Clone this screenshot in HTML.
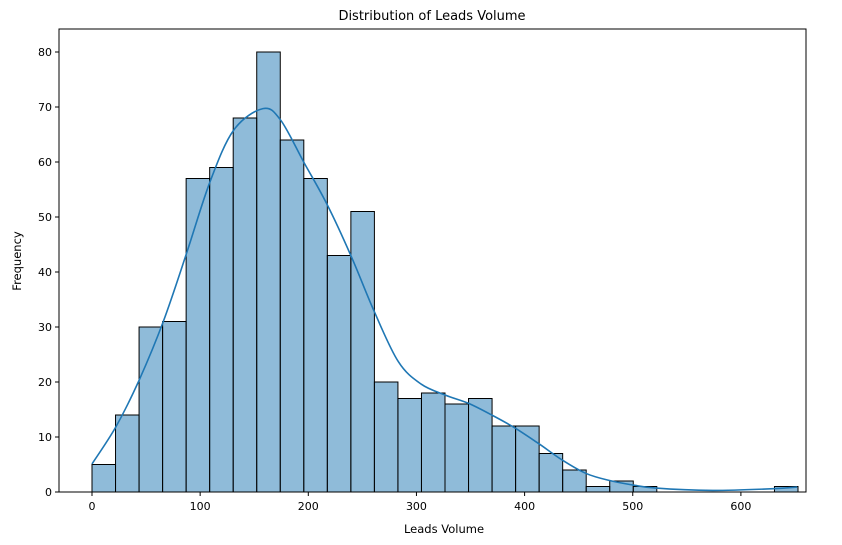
<!DOCTYPE html>
<html><head><meta charset="utf-8"><style>
body{margin:0;background:#fff;font-family:"DejaVu Sans","Liberation Sans",sans-serif}
svg{display:block}
</style></head><body>
<svg id="chart" width="842" height="545">
<text x="432" y="20" font-size="13" text-anchor="middle">Distribution of Leads Volume</text>
<text x="444" y="533" font-size="11.5" text-anchor="middle">Leads Volume</text>
<text transform="translate(21,261) rotate(-90)" font-size="11.5" text-anchor="middle">Frequency</text>
<g id="bars"></g><g id="ticks"></g>
</svg>
<script>
const counts=[5,14,30,31,57,59,68,80,64,57,43,51,20,17,18,16,17,12,12,7,4,1,2,1,0,0,0,0,0,1];
const binMin=0, binMax=652.8;
const kdeX=[0,22.2,43.7,65.9,87.6,109.1,131,158,174.5,196.3,217.6,239.8,261,283.2,304.5,327,348.3,369.6,391.4,413,434.9,456.5,478,499.6,521.5,574,630,652];
const kdeY=[5.1,11.9,20.4,31,43.5,56.4,65.8,69.7,67.6,59.8,52.2,42.8,32.8,23.7,19.6,17.6,16.1,14,11.6,8.8,5.8,3.4,2.1,1.3,0.7,0.3,0.6,0.9];
const xTicks=[0,100,200,300,400,500,600];
const yTicks=[0,10,20,30,40,50,60,70,80];
const L=59,R=806,T=29,B=492;
const xs=v=>92+v*1.0815;
const ys=v=>B-v*5.5;
const NS="http://www.w3.org/2000/svg";
const svg=document.getElementById('chart');
const bars=document.getElementById('bars');
const ticks=document.getElementById('ticks');
function mk(t,a,p){const e=document.createElementNS(NS,t);for(const k in a)e.setAttribute(k,a[k]);(p||svg).appendChild(e);return e;}
const bw=(binMax-binMin)/counts.length;
counts.forEach((c,i)=>{
  if(c<=0)return;
  const x0=xs(binMin+i*bw),x1=xs(binMin+(i+1)*bw);
  const r=mk('rect',{x:x0,y:ys(c),width:x1-x0,height:ys(0)-ys(c),fill:'rgba(31,119,180,0.5)',stroke:'#000','stroke-width':1},bars);
  
  
});
const P=kdeX.map((x,i)=>[xs(x),ys(kdeY[i])]);
let d='M'+P[0][0].toFixed(1)+','+P[0][1].toFixed(1);
for(let i=0;i<P.length-1;i++){
  const p0=P[i-1]||P[i],p1=P[i],p2=P[i+1],p3=P[i+2]||P[i+1];
  const c1=[p1[0]+(p2[0]-p0[0])/6,p1[1]+(p2[1]-p0[1])/6];
  const c2=[p2[0]-(p3[0]-p1[0])/6,p2[1]-(p3[1]-p1[1])/6];
  d+=' C'+c1.map(v=>v.toFixed(1)).join(',')+' '+c2.map(v=>v.toFixed(1)).join(',')+' '+p2.map(v=>v.toFixed(1)).join(',');
}
const kde=mk('path',{d:d,fill:'none',stroke:'#1f77b4','stroke-width':1.6,'stroke-linejoin':'round'});


const frame=mk('rect',{x:L,y:T,width:R-L,height:B-T,fill:'none',stroke:'#000','stroke-width':1});


xTicks.forEach(v=>{
  mk('line',{x1:xs(v),x2:xs(v),y1:B,y2:B+4,stroke:'#000'},ticks);
  const t=mk('text',{x:xs(v),y:B+18,'font-size':11,'text-anchor':'middle'},ticks);t.textContent=v;
  
  
});
yTicks.forEach(v=>{
  mk('line',{x1:L-4,x2:L,y1:ys(v),y2:ys(v),stroke:'#000'},ticks);
  const t=mk('text',{x:L-7,y:ys(v)+4,'font-size':11,'text-anchor':'end'},ticks);t.textContent=v;
  
  
});
</script>
</body></html>
